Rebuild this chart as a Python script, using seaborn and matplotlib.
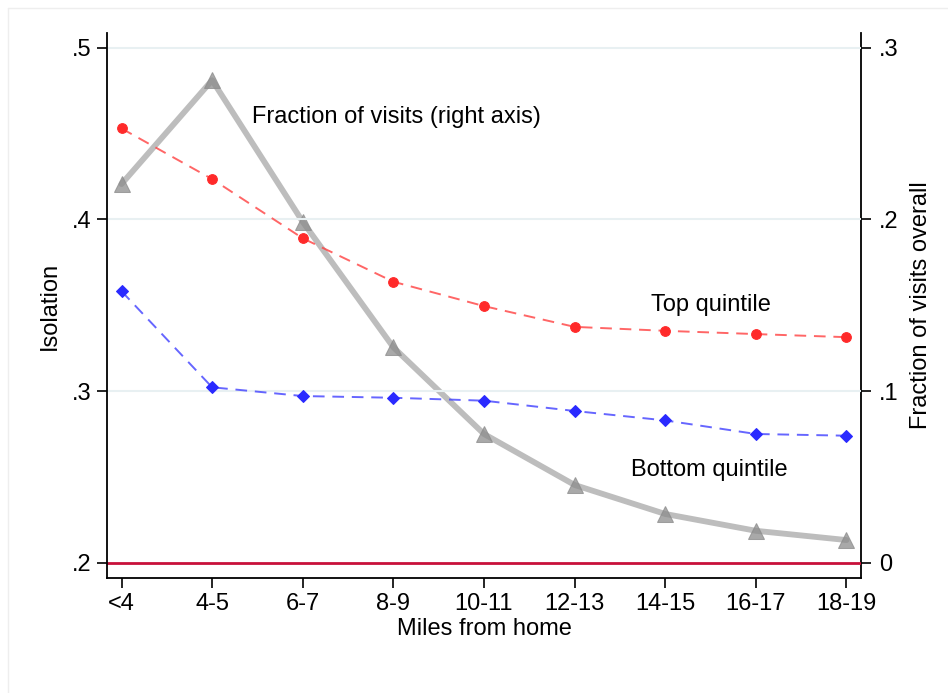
import matplotlib
matplotlib.use("Agg")
import matplotlib.pyplot as plt
import seaborn as sns
import pandas as pd
from matplotlib.lines import Line2D

categories = ["<4", "4-5", "6-7", "8-9", "10-11", "12-13", "14-15", "16-17", "18-19"]
top_quintile = [0.453, 0.4235, 0.389, 0.3637, 0.3495, 0.3374, 0.3351, 0.3332, 0.3314]
bottom_quintile = [0.3582, 0.3022, 0.2971, 0.2961, 0.2944, 0.2884, 0.2829, 0.2750, 0.2740]
fraction_visits = [0.2206, 0.2811, 0.1986, 0.1255, 0.0750, 0.0453, 0.0284, 0.0186, 0.0132]
left_ticks = [0.2, 0.3, 0.4, 0.5]
left_labels = [".2", ".3", ".4", ".5"]
right_ticks = [0.0, 0.1, 0.2, 0.3]
right_labels = ["0", ".1", ".2", ".3"]

df = pd.DataFrame({
    "x": list(range(len(categories))),
    "top": top_quintile,
    "bottom": bottom_quintile,
    "frac": fraction_visits,
})

sns.set_theme(style="white")
plt.rcParams["font.family"] = ["Liberation Sans", "DejaVu Sans"]
FS = 17

fig = plt.figure(figsize=(9.48, 6.93), dpi=100)
ax = fig.add_axes([107 / 948, 1 - 578 / 693, (861 - 107) / 948, (578 - 33) / 693])
ax2 = ax.twinx()

# gray series on right axis (behind)
sns.lineplot(data=df, x="x", y="frac", ax=ax2, color="#bdbdbd", linewidth=4.2,
             marker="^", markersize=11, zorder=2)
ax2.lines[-1].set_markerfacecolor((0.55, 0.55, 0.55, 0.75))
ax2.lines[-1].set_markeredgecolor((0.55, 0.55, 0.55, 0.75))

ax.set_zorder(ax2.get_zorder() + 1)
ax.patch.set_visible(False)

# gridlines
for t in left_ticks[1:]:
    ax.axhline(t, color="#e8f0f2", linewidth=1.5, zorder=0)
ax.axhline(0.2, color="#c8103a", linewidth=2.0, zorder=1)

sns.lineplot(data=df, x="x", y="top", ax=ax, color=(1, 0.25, 0.25, 0.8),
             linewidth=1.4, linestyle=(0, (6, 4)), marker="o", markersize=7,
             markerfacecolor="#ff2a2a", markeredgecolor="#ff2a2a", zorder=3)
sns.lineplot(data=df, x="x", y="bottom", ax=ax, color=(0.25, 0.25, 1, 0.8),
             linewidth=1.4, linestyle=(0, (6, 4)), marker="D", markersize=6.5,
             markerfacecolor="#2a2aff", markeredgecolor="#2a2aff", zorder=3)

xmin, xmax = -0.16, 8.16
ax.set_xlim(xmin, xmax)
ax2.set_xlim(xmin, xmax)
ylo, yhi = 0.1911, 0.5086
ax.set_ylim(ylo, yhi)
ax2.set_ylim(ylo - 0.2, yhi - 0.2)

ax.set_xticks(range(len(categories)))
ax.set_xticklabels(categories, fontsize=FS)
ax.set_yticks(left_ticks)
ax.set_yticklabels(left_labels, fontsize=FS)
ax2.set_yticks(right_ticks)
ax2.set_yticklabels(right_labels, fontsize=FS)

for a in (ax, ax2):
    a.tick_params(axis="both", which="major", direction="out", length=7, width=1.2,
                  color="black", labelcolor="black", pad=4)
    for s in a.spines.values():
        s.set_visible(False)
ax.tick_params(axis="y", left=True, right=False)
ax.tick_params(axis="x", bottom=True)
ax2.tick_params(axis="y", right=True, left=False, pad=6)

for side in ("left", "bottom"):
    ax.spines[side].set_visible(True)
    ax.spines[side].set_color("black")
    ax.spines[side].set_linewidth(1.3)
ax2.spines["right"].set_visible(True)
ax2.spines["right"].set_color("black")
ax2.spines["right"].set_linewidth(1.3)

ax.set_xlabel("Miles from home", fontsize=FS, color="black", labelpad=2)
ax.set_ylabel("Isolation", fontsize=FS, color="black", labelpad=8)
ax2.set_ylabel("Fraction of visits overall", fontsize=FS, color="black", labelpad=8)

ax.text(1.44, 0.4598, "Fraction of visits (right axis)", fontsize=FS,
        ha="left", va="center", color="black")
ax.text(6.5, 0.3503, "Top quintile", fontsize=FS, ha="center", va="center", color="black")
ax.text(6.49, 0.2538, "Bottom quintile", fontsize=FS, ha="center", va="center", color="black")

# faint outer frame (graph region)
fig.add_artist(Line2D([8 / 948, 8 / 948], [0, 1 - 8 / 693], transform=fig.transFigure,
                      color="#eeeeee", linewidth=1))
fig.add_artist(Line2D([8 / 948, 1], [1 - 8 / 693, 1 - 8 / 693], transform=fig.transFigure,
                      color="#eeeeee", linewidth=1))

fig.savefig("out.png", dpi=100)
